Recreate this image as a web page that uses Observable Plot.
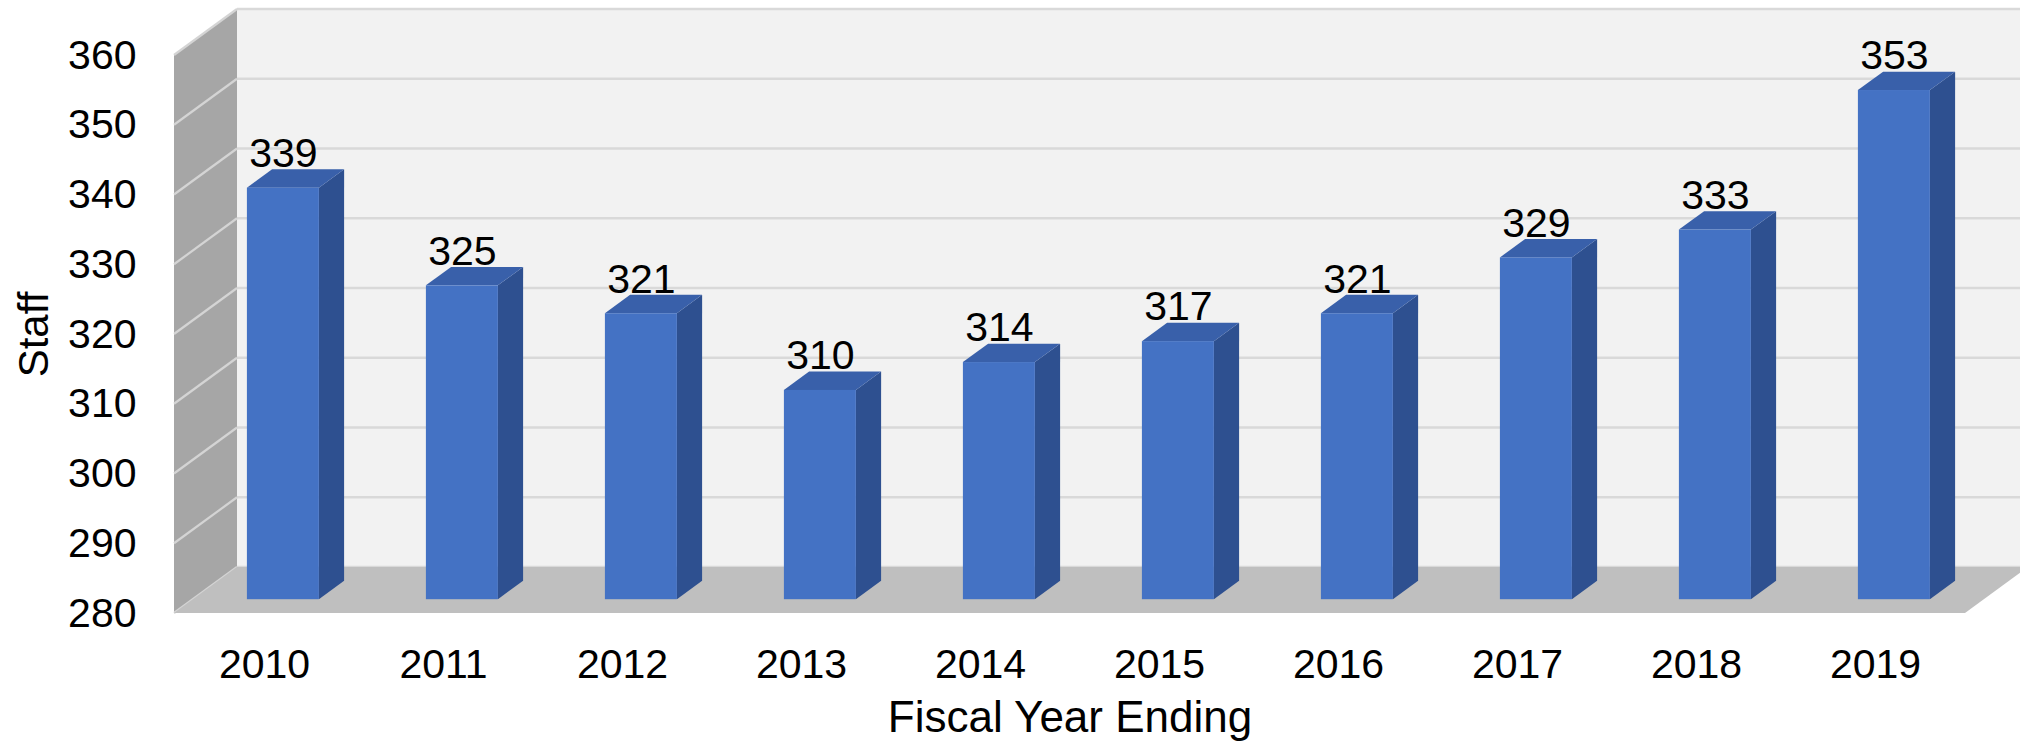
<!DOCTYPE html>
<html>
<head>
<meta charset="utf-8">
<script src="https://cdn.jsdelivr.net/npm/d3@7"></script>
<script src="https://cdn.jsdelivr.net/npm/@observablehq/plot@0.6"></script>
<style>
  html, body { margin: 0; padding: 0; background: #ffffff; }
  #chart { width: 2020px; height: 741px; }
</style>
</head>
<body>
<div id="chart"></div>
<script>
// ---- Data ----
const years = ["2010", "2011", "2012", "2013", "2014", "2015", "2016", "2017", "2018", "2019"];
const staff = [339, 325, 321, 310, 314, 317, 321, 329, 333, 353];
const yTicks = [280, 290, 300, 310, 320, 330, 340, 350, 360];
const yTitle = "Staff";
const xTitle = "Fiscal Year Ending";

const data = years.map((year, i) => ({year, staff: staff[i]}));

// ---- 3D look ----
const DX = 63, DY = -46;          // depth offset of the chart box
const BF = 0.3, BB = 0.7;         // bar front / back depth fractions
const colors = {
  back: "#f2f2f2", backGrid: "#d9d9d9", side: "#a6a6a6", sideGrid: "#d4d4d4",
  floor: "#bfbfbf", front: "#4472c4", barSide: "#2e5090", barTop: "#3960aa"
};

function walls(index, scales, values, dim) {
  const y = scales.y;
  const L = dim.marginLeft, R = dim.width - dim.marginRight;
  const yMin = yTicks[0], yMax = yTicks[yTicks.length - 1];
  const g = d3.create("svg:g");
  // back wall
  g.append("rect")
    .attr("x", L + DX).attr("y", y(yMax) + DY)
    .attr("width", R - L).attr("height", y(yMin) - y(yMax))
    .attr("fill", colors.back);
  for (const v of yTicks) {
    g.append("line")
      .attr("x1", L + DX).attr("x2", R + DX)
      .attr("y1", y(v) + DY).attr("y2", y(v) + DY)
      .attr("stroke", colors.backGrid).attr("stroke-width", 2.5);
  }
  // side wall
  g.append("path")
    .attr("d", `M${L},${y(yMax)}L${L + DX},${y(yMax) + DY}L${L + DX},${y(yMin) + DY}L${L},${y(yMin)}Z`)
    .attr("fill", colors.side);
  for (const v of yTicks) {
    g.append("line")
      .attr("x1", L).attr("x2", L + DX)
      .attr("y1", y(v)).attr("y2", y(v) + DY)
      .attr("stroke", colors.sideGrid).attr("stroke-width", 2.2);
  }
  // floor
  g.append("path")
    .attr("d", `M${L},${y(yMin)}L${L + DX},${y(yMin) + DY}L${R + DX},${y(yMin) + DY}L${R},${y(yMin)}Z`)
    .attr("fill", colors.floor);
  return g.node();
}

function barSides(index, scales, values, dim) {
  const x = scales.x, y = scales.y;
  const bw = x.bandwidth();
  const ox = DX * BF, oy = DY * BF;
  const ddx = DX * (BB - BF), ddy = DY * (BB - BF);
  const g = d3.create("svg:g");
  for (const d of data) {
    const x0 = x(d.year) + ox, x1 = x0 + bw;
    const yt = y(d.staff) + oy, yb = y(yTicks[0]) + oy;
    g.append("path")
      .attr("d", `M${x1},${yb}L${x1 + ddx},${yb + ddy}L${x1 + ddx},${yt + ddy}L${x1},${yt}Z`)
      .attr("fill", colors.barSide);
    g.append("path")
      .attr("d", `M${x0},${yt}L${x0 + ddx},${yt + ddy}L${x1 + ddx},${yt + ddy}L${x1},${yt}Z`)
      .attr("fill", colors.barTop);
  }
  return g.node();
}

const chart = Plot.plot({
  width: 2020,
  height: 741,
  marginLeft: 174,
  marginRight: 55,
  marginTop: 55,
  marginBottom: 128,
  style: {fontFamily: "'Liberation Sans', Arial, sans-serif", fontSize: "41px", color: "#000", background: "#fff", overflow: "hidden"},
  x: {domain: years, paddingInner: 0.6, paddingOuter: 0.3, tickSize: 0, tickPadding: 35, label: null},
  y: {domain: [yTicks[0], yTicks[yTicks.length - 1]], ticks: yTicks, tickSize: 0, tickPadding: 38, label: null},
  marks: [
    walls,
    barSides,
    Plot.barY(data, {x: "year", y1: yTicks[0], y2: "staff", fill: colors.front, dx: DX * BF, dy: DY * BF}),
    Plot.text(data, {x: "year", y: "staff", text: d => String(d.staff), dx: DX * BF, dy: -35, lineAnchor: "bottom", fontSize: 41, fill: "#000"}),
    Plot.text([yTitle], {frameAnchor: "left", rotate: -90, dx: -140, textAnchor: "middle", lineAnchor: "middle", fontSize: 42, fill: "#000"}),
    Plot.text([xTitle], {frameAnchor: "bottom", dy: 118, textAnchor: "middle", lineAnchor: "bottom", fontSize: 44, fill: "#000"})
  ]
});
document.getElementById("chart").appendChild(chart);
</script>
</body>
</html>
